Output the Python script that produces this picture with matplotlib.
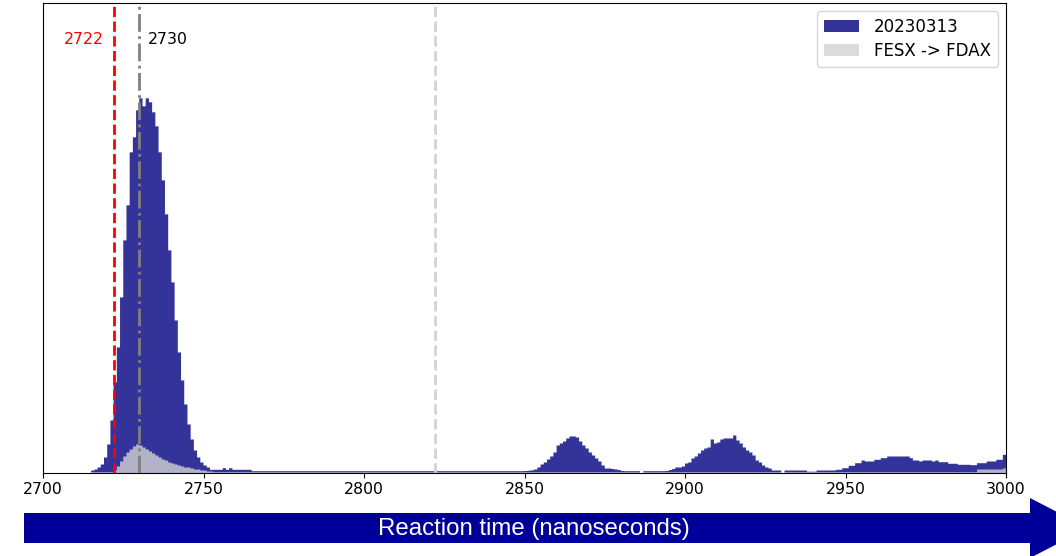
import numpy as np
import matplotlib
matplotlib.use("Agg")
import matplotlib.pyplot as plt
from matplotlib.patches import Polygon

# ---- data -------------------------------------------------------------
# 1 ns bins from 2700 to 3000 ns
bin_start = 2700
bin_stop = 3000

# reaction-time counts per 1 ns bin, session 20230313 (bins 2700..2999)
counts_session = [
    # 2700
    0, 0, 0, 0, 0, 0, 0, 0, 0, 0,
    # 2710
    0, 0, 0, 0, 0, 2, 3, 5, 8, 15,
    # 2720
    28, 52, 90, 125, 175, 232, 267, 320, 335, 362,
    # 2730
    374, 366, 374, 370, 360, 346, 320, 292, 258, 222,
    # 2740
    190, 152, 120, 92, 68, 48, 33, 22, 15, 10,
    # 2750
    7, 5, 2.7, 2.7, 2.7, 2.7, 4.3, 2.7, 4.3, 2.7,
    # 2760
    2.7, 2.7, 2.7, 2.7, 2.7, 1.3, 1.3, 1.3, 1.3, 1.3,
    # 2770
    1.3, 1.3, 1.3, 1.3, 1.3, 1.3, 1.3, 1.3, 1.3, 1.3,
    # 2780
    1.3, 1.3, 1.3, 1.3, 1.3, 1.3, 1.3, 1.3, 1.3, 1.3,
    # 2790
    1.3, 1.3, 1.3, 1.3, 1.3, 1.3, 1.3, 1.3, 1.3, 1.3,
    # 2800
    1.3, 1.3, 1.3, 1.3, 1.3, 1.3, 1.3, 1.3, 1.3, 1.3,
    # 2810
    1.3, 1.3, 1.3, 1.3, 1.3, 1.3, 1.3, 1.3, 1.3, 1.3,
    # 2820
    1.3, 1.3, 1.3, 1.3, 1.3, 1.3, 1.3, 1.3, 1.3, 1.3,
    # 2830
    1.3, 1.3, 1.3, 1.3, 1.3, 1.3, 1.3, 1.3, 1.3, 1.3,
    # 2840
    1.3, 1.3, 1.3, 1.3, 1.3, 1.3, 1.3, 1.3, 1.3, 1.3,
    # 2850
    1.5, 1.8, 2.2, 3, 5, 8, 10, 13, 16, 20,
    # 2860
    27, 29, 31, 34, 36, 36, 35, 31, 27, 24,
    # 2870
    20, 17, 14, 11, 7, 4, 4, 3.5, 3, 2.5,
    # 2880
    1.5, 1.3, 1.3, 1.3, 1.3, 1.3, 0, 1.3, 1.3, 1.3,
    # 2890
    1.3, 1.3, 1.3, 1.3, 1.5, 2.5, 3.5, 5, 5, 6,
    # 2900
    9, 10, 14, 16, 19, 22, 24, 25, 33, 29,
    # 2910
    30, 33, 34, 34, 34, 37, 32, 29, 25, 22,
    # 2920
    20, 17, 12, 10, 7, 5, 4, 2, 2, 2,
    # 2930
    0, 2, 2, 2, 2, 2, 2, 2, 0.8, 0.8,
    # 2940
    0.8, 2, 2, 2, 2, 2, 2, 2.7, 2.7, 4.3,
    # 2950
    4.3, 6.7, 6.7, 9.3, 9.3, 12, 11, 11, 11, 12.7,
    # 2960
    12.7, 14.3, 14.3, 16, 16, 16, 16, 16, 16, 16,
    # 2970
    14.3, 12, 12, 11, 12, 12, 12, 11, 12, 10.3,
    # 2980
    10.3, 10.3, 8.7, 8.7, 8.7, 7.7, 7.7, 7.7, 7.7, 7.3,
    # 2990
    7.3, 9.3, 9.3, 9.3, 11, 11, 11, 12.7, 12.7, 17.7,
]

# counts per 1 ns bin for the FESX -> FDAX leg (bins 2700..2999)
counts_leg = [
    # 2700
    0, 0, 0, 0, 0, 0, 0, 0, 0, 0,
    # 2710
    0, 0, 0, 0, 0, 0, 0, 0, 0, 0,
    # 2720
    0, 0, 2, 6, 11, 16, 20, 23, 26, 28,
    # 2730
    27, 25, 23, 21, 19, 17, 15, 13, 12, 10,
    # 2740
    9, 8, 7, 6, 5, 5, 4, 3, 3, 2,
    # 2750
    2, 1, 1, 0, 0, 0, 0, 0, 0, 0,
] + [0] * 230 + [
    # 2990
    0, 3, 3, 3, 3, 3, 3, 3, 3, 4,
]

session_label = "20230313"
leg_label = "FESX -> FDAX"

# reference markers (ns)
fastest_ns = 2722
mode_ns = 2730
mid_ns = 2822

x_ticks = [2700, 2750, 2800, 2850, 2900, 2950, 3000]
x_title = "Reaction time (nanoseconds)"

# ---- figure -----------------------------------------------------------
W, H = 1056, 556
fig = plt.figure(figsize=(W / 100, H / 100), dpi=100)
ax = fig.add_axes([43 / W, 1 - 472.5 / H, (1006 - 43) / W, (472.5 - 3) / H])

edges = np.arange(bin_start, bin_stop + 1)
centers = edges[:-1] + 0.5

ax.hist(centers, bins=edges, weights=counts_session, histtype="stepfilled",
        color="navy", alpha=0.8, label=session_label)
ax.hist(centers, bins=edges, weights=counts_leg, histtype="stepfilled",
        color="lightgray", alpha=0.8, label=leg_label)

ax.axvline(fastest_ns, color="red", linestyle="--", linewidth=2)
ax.axvline(mode_ns, color="gray", linestyle="-.", linewidth=2)
ax.axvline(mid_ns, color="lightgray", linestyle="--", linewidth=2)

ax.set_xlim(bin_start, bin_stop)
y_top = max(counts_session) / 0.797
ax.set_ylim(0, y_top)

fs = 11.3
ax.text(fastest_ns - 3, 0.923 * y_top, str(fastest_ns), color="red",
        ha="right", va="center", fontsize=fs)
ax.text(mode_ns + 2.7, 0.923 * y_top, str(mode_ns), color="black",
        ha="left", va="center", fontsize=fs)

ax.set_xticks(x_ticks)
ax.set_xticklabels([str(t) for t in x_ticks], fontsize=fs)
ax.set_yticks([])

ax.legend(loc="upper right", fontsize=12, handlelength=2.1,
          handletextpad=0.9, labelspacing=0.35, borderpad=0.4)

# ---- axis title arrow -------------------------------------------------
def fig_xy(px, py):
    return (px / W, 1 - py / H)

arrow_pts = [fig_xy(24, 513), fig_xy(1030, 513), fig_xy(1030, 498),
             fig_xy(1088, 528), fig_xy(1030, 558), fig_xy(1030, 543),
             fig_xy(24, 543)]
fig.add_artist(Polygon(arrow_pts, closed=True, facecolor="#000099",
                       edgecolor="none", transform=fig.transFigure))
fig.text(534 / W, 1 - 529.5 / H, x_title, color="white", ha="center",
         va="center", fontsize=17.3, family="Liberation Sans")

fig.savefig("out.png", dpi=100)
